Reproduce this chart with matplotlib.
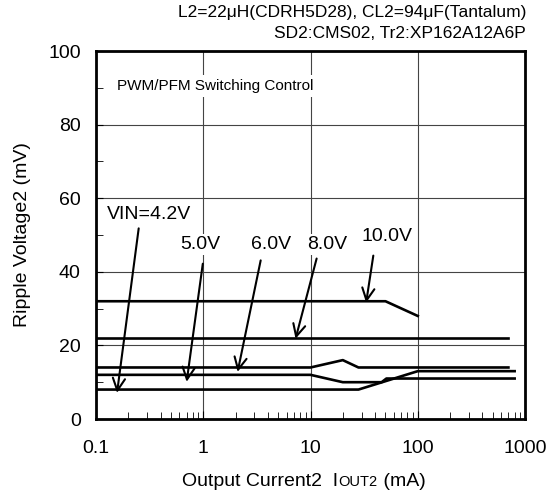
import matplotlib.pyplot as plt
from matplotlib.offsetbox import TextArea, HPacker, AnchoredOffsetbox
from matplotlib.ticker import FixedLocator, NullFormatter, LogLocator

plt.rcParams['font.family'] = ['Liberation Sans', 'DejaVu Sans']

# series: output current (mA) / ripple voltage (mV)
x_10v = [0.1, 50, 100]
y_10v = [32, 32, 28]
x_8v = [0.1, 700]
y_8v = [22, 22]
x_6v = [0.1, 10, 20, 28, 700]
y_6v = [14, 14, 16, 14, 14]
x_5v = [0.105, 10, 20, 46, 51, 800]
y_5v = [12, 12, 10, 10, 11, 11]
x_42v = [0.1, 28, 100, 800]
y_42v = [8, 8, 13, 13]

# labels: text, text position, arrow start, arrow tip
etiquetas = ["VIN=4.2V", "5.0V", "6.0V", "8.0V", "10.0V"]
pos_texto = [(0.31, 55.6), (0.93, 47.4), (4.25, 47.4), (14.4, 47.4), (52, 49.6)]
inicio_seta = [(0.25, 51.8), (0.99, 42.2), (3.43, 43.1), (11.4, 43.6), (38.5, 44.4)]
ponta_seta = [(0.157, 7.1), (0.70, 10.1), (2.09, 12.8), (7.25, 21.8), (33, 31.6)]

fig = plt.figure(figsize=(5.55, 5.0), dpi=100)
ax = fig.add_axes([0.173, 0.162, 0.773, 0.736])

for xs, ys in [(x_10v, y_10v), (x_8v, y_8v), (x_6v, y_6v), (x_5v, y_5v), (x_42v, y_42v)]:
    ax.plot(xs, ys, color="black", lw=1.9, zorder=3)

ax.set_xscale("log")
ax.set_xlim(0.1, 1000)
ax.set_ylim(0, 100)
ax.set_yticks([0, 20, 40, 60, 80, 100])
ax.yaxis.set_minor_locator(FixedLocator([10, 30, 50, 70, 90]))
ax.xaxis.set_minor_locator(LogLocator(base=10, subs=range(2, 10)))
ax.xaxis.set_minor_formatter(NullFormatter())
ax.set_xticks([0.1, 1, 10, 100, 1000])
ax.set_xticklabels(["0.1", "1", "10", "100", "1000"])

ax.grid(True, which="major", color="#444444", lw=0.8)
for s in ax.spines.values():
    s.set_linewidth(2)
ax.tick_params(axis="both", which="both", direction="in", labelsize=14)
ax.tick_params(axis="x", which="major", length=6, pad=15)
ax.tick_params(axis="x", which="minor", length=5)
ax.tick_params(axis="y", which="both", length=5, pad=11)

ax.set_ylabel("Ripple Voltage2 (mV)", fontsize=14)
ax.yaxis.set_label_coords(-0.152, 0.5)

for txt, pt, ini, tip in zip(etiquetas, pos_texto, inicio_seta, ponta_seta):
    ax.annotate("", xy=tip, xytext=ini,
                arrowprops=dict(arrowstyle="->", color="black", lw=1.5,
                                mutation_scale=22, shrinkA=0, shrinkB=0),
                zorder=4)
    ax.text(pt[0], pt[1], txt, ha="center", va="center", fontsize=14,
            bbox=dict(facecolor="white", edgecolor="none", pad=1.5), zorder=5)

ax.text(0.048, 0.905, "PWM/PFM Switching Control", transform=ax.transAxes,
        ha="left", va="center", fontsize=11,
        bbox=dict(facecolor="white", edgecolor="none", pad=3), zorder=5)

fig.text(526 / 555, 1 - 13 / 500, "L2=22μH(CDRH5D28), CL2=94μF(Tantalum)",
         ha="right", va="center", fontsize=12.5)
fig.text(526 / 555, 1 - 33 / 500, "SD2:CMS02, Tr2:XP162A12A6P",
         ha="right", va="center", fontsize=12.5)

partes = HPacker(children=[TextArea("Output Current2  I", textprops=dict(size=14)),
                           TextArea("OUT2", textprops=dict(size=10.5)),
                           TextArea(" (mA)", textprops=dict(size=14))],
                 align="baseline", pad=0, sep=0)
rotulo_x = AnchoredOffsetbox(loc="center", child=partes, frameon=False, pad=0,
                             bbox_to_anchor=(304 / 555, 1 - 481 / 500),
                             bbox_transform=fig.transFigure, borderpad=0)
fig.add_artist(rotulo_x)

fig.savefig("out.png", dpi=100)
plt.close(fig)
